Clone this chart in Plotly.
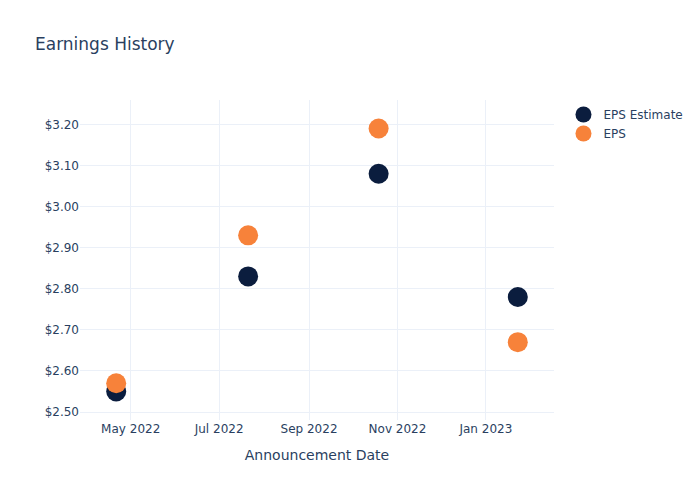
import plotly.graph_objects as go

dates = ["2022-04-21", "2022-07-21", "2022-10-19", "2023-01-23"]
eps_estimate = [2.55, 2.83, 3.08, 2.78]
eps_actual = [2.57, 2.93, 3.19, 2.67]

fig = go.Figure()
fig.add_trace(go.Scatter(x=dates, y=eps_estimate, mode="markers", name="EPS Estimate",
                         marker=dict(color="#0b1d3e", size=20)))
fig.add_trace(go.Scatter(x=dates, y=eps_actual, mode="markers", name="EPS",
                         marker=dict(color="#f7823a", size=20)))
fig.update_layout(
    template="plotly_white",
    width=700, height=500,
    title=dict(text="Earnings History"),
    xaxis=dict(title=dict(text="Announcement Date"), dtick="M2", tickformat="%b %Y"),
    yaxis=dict(tickprefix="$", tickformat=".2f"),
    font=dict(color="#2a3f5f", family="DejaVu Sans"),
)
fig.write_html("out.html")
